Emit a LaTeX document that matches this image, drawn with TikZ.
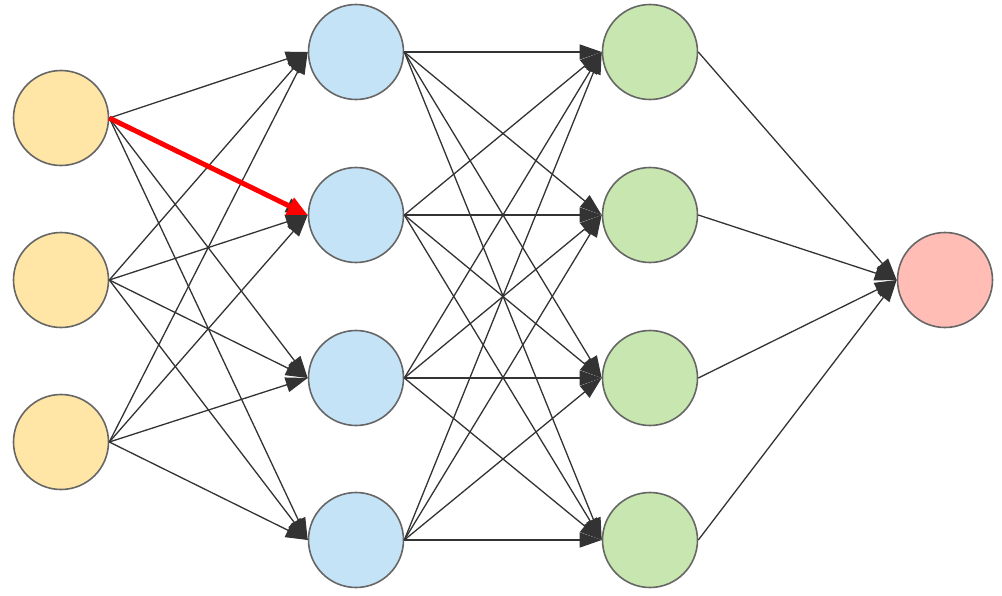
\documentclass[tikz,border=0pt]{standalone}
\usetikzlibrary{arrows.meta}
\definecolor{cin}{HTML}{FFE6A6}
\definecolor{chid}{HTML}{C5E3F6}
\definecolor{chtwo}{HTML}{C8E6B0}
\definecolor{cout}{HTML}{FFBDB5}
\definecolor{bord}{HTML}{666666}
\definecolor{edge}{HTML}{333333}
\begin{document}
\begin{tikzpicture}[x=1pt,y=-1pt,
  neu/.style={circle,draw=bord,line width=1.6pt,minimum size=95pt,inner sep=0pt},
  con/.style={draw=edge,line width=1.3pt,-{Triangle[length=22pt,width=15pt]}},
  hot/.style={draw=red,line width=5pt,-{Triangle[length=20pt,width=18pt]}}]
\useasboundingbox (0,0) rectangle (1002,595);
\foreach \i/\y in {1/118,2/280,3/442} \node[neu,fill=cin] (a\i) at (61,\y) {};
\foreach \i/\y in {1/52,2/215,3/378,4/540} \node[neu,fill=chid] (b\i) at (356,\y) {};
\foreach \i/\y in {1/52,2/215,3/378,4/540} \node[neu,fill=chtwo] (c\i) at (650,\y) {};
\node[neu,fill=cout] (d) at (945,280) {};
\foreach \i in {1,2,3} \foreach \j in {1,2,3,4} \draw[con] (a\i.east) -- (b\j.west);
\foreach \i in {1,2,3,4} \foreach \j in {1,2,3,4} \draw[con] (b\i.east) -- (c\j.west);
\foreach \i in {1,2,3,4} \draw[con] (c\i.east) -- (d.west);
\draw[hot] (a1.east) -- (b2.west);
\end{tikzpicture}
\end{document}
